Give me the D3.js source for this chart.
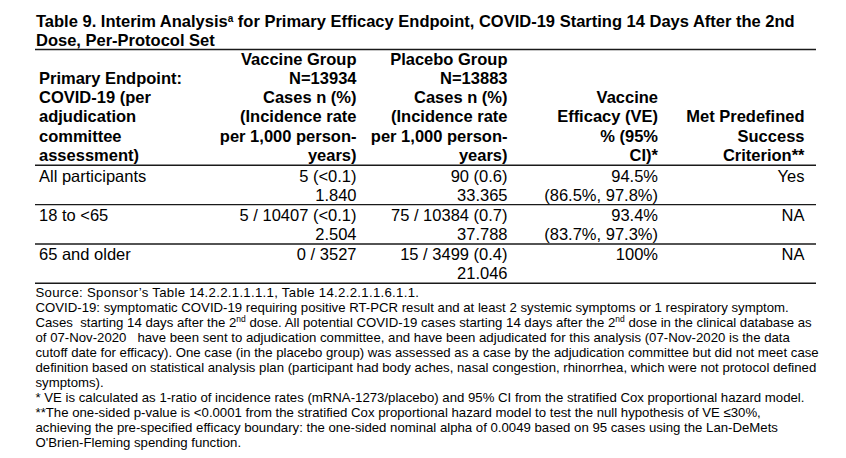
<!DOCTYPE html>
<html>
<head>
<meta charset="utf-8">
<script src="https://cdn.jsdelivr.net/npm/d3@7"></script>
<style>
  html, body { margin: 0; padding: 0; background: #fff; }
  svg { display: block; }
  text { font-family: "Liberation Sans", Arial, Helvetica, sans-serif; fill: #000; }
</style>
</head>
<body>
<svg id="chart" width="846" height="458"></svg>
<script>
// ---------- data ----------
const subgroups = ["All participants", "18 to <65", "65 and older"];
const vaccineCases = ["5 (<0.1)", "5 / 10407 (<0.1)", "0 / 3527"];
const vaccineRate = ["1.840", "2.504", ""];
const placeboCases = ["90 (0.6)", "75 / 10384 (0.7)", "15 / 3499 (0.4)"];
const placeboRate = ["33.365", "37.788", "21.046"];
const vaccineEfficacy = ["94.5%", "93.4%", "100%"];
const efficacyCI = ["(86.5%, 97.8%)", "(83.7%, 97.3%)", ""];
const metCriterion = ["Yes", "NA", "NA"];

const headerEndpoint = ["Primary Endpoint:", "COVID-19 (per", "adjudication", "committee", "assessment)"];
const headerVaccine = ["Vaccine Group", "N=13934", "Cases n (%)", "(Incidence rate", "per 1,000 person-", "years)"];
const headerPlacebo = ["Placebo Group", "N=13883", "Cases n (%)", "(Incidence rate", "per 1,000 person-", "years)"];
const headerVE = ["Vaccine", "Efficacy (VE)", "% (95%", "CI)*"];
const headerMet = ["Met Predefined", "Success", "Criterion**"];

const footnotes = [
  [["Source: Sponsor\u2019s Table 14.2.2.1.1.1.1, Table 14.2.2.1.1.6.1.1."]],
  [["COVID-19: symptomatic COVID-19 requiring positive RT-PCR result and at least 2 systemic symptoms or 1 respiratory symptom."]],
  [["Cases  starting 14 days after the 2"], ["nd", "sup"], [" dose. All potential COVID-19 cases starting 14 days after the 2"], ["nd", "sup"], [" dose in the clinical database as"]],
  [["of 07-Nov-2020   have been sent to adjudication committee, and have been adjudicated for this analysis (07-Nov-2020 is the data"]],
  [["cutoff date for efficacy). One case (in the placebo group) was assessed as a case by the adjudication committee but did not meet case"]],
  [["definition based on statistical analysis plan (participant had body aches, nasal congestion, rhinorrhea, which were not protocol defined"]],
  [["symptoms)."]],
  [["* VE is calculated as 1-ratio of incidence rates (mRNA-1273/placebo) and 95% CI from the stratified Cox proportional hazard model."]],
  [["**The one-sided p-value is <0.0001 from the stratified Cox proportional hazard model to test the null hypothesis of VE \u226430%,"]],
  [["achieving the pre-specified efficacy boundary: the one-sided nominal alpha of 0.0049 based on 95 cases using the Lan-DeMets"]],
  [["O'Brien-Fleming spending function."]]
];

// ---------- layout ----------
const svg = d3.select("#chart");
const left = 35, right = 816;
const bodySize = 16.5, lineH = 19.15;

// title
const title = svg.append("g").attr("font-weight", "bold").attr("font-size", 16.5);
const t1 = title.append("text").attr("x", 36).attr("y", 26.7);
t1.append("tspan").text("Table 9. Interim Analysis");
t1.append("tspan").attr("font-size", 10).attr("dy", -5).text("a");
t1.append("tspan").attr("dy", 5).text(" for Primary Efficacy Endpoint, COVID-19 Starting 14 Days After the 2nd");
title.append("text").attr("x", 36).attr("y", 45.7).text("Dose, Per-Protocol Set");

// columns
const columns = [
  { header: headerEndpoint, l1: subgroups, l2: null, x: 39, anchor: "start" },
  { header: headerVaccine, l1: vaccineCases, l2: vaccineRate, x: 356.5, anchor: "end" },
  { header: headerPlacebo, l1: placeboCases, l2: placeboRate, x: 507.5, anchor: "end" },
  { header: headerVE, l1: vaccineEfficacy, l2: efficacyCI, x: 658, anchor: "end" },
  { header: headerMet, l1: metCriterion, l2: null, x: 804.5, anchor: "end" }
];

const headerTop = 49.5, headerBottom = 165.3;
const headerLast = 160.7; // baseline of last header line
const y = d3.scaleBand().domain(subgroups).range([headerBottom, 283.3]).paddingInner(0).paddingOuter(0);

// rules
const rules = [headerTop, headerBottom].concat(subgroups.map(s => y(s) + y.bandwidth()));
svg.append("g").selectAll("line").data(rules).join("line")
  .attr("x1", left).attr("x2", right)
  .attr("y1", d => d).attr("y2", d => d)
  .attr("stroke", "#1a1a1a").attr("stroke-width", 1.4);

// header text
const hg = svg.append("g").attr("font-weight", "bold").attr("font-size", bodySize);
columns.forEach(col => {
  const n = col.header.length;
  hg.append("g").selectAll("text").data(col.header).join("text")
    .attr("x", col.x)
    .attr("y", (d, i) => headerLast - (n - 1 - i) * lineH)
    .attr("text-anchor", col.anchor)
    .text(d => d);
});

// body text
const bg = svg.append("g").attr("font-size", bodySize);
columns.forEach(col => {
  bg.append("g").selectAll("text").data(subgroups).join("text")
    .attr("x", col.x)
    .attr("y", d => y(d) + 16.3)
    .attr("text-anchor", col.anchor)
    .text((d, i) => col.l1[i]);
  if (col.l2) {
    bg.append("g").selectAll("text").data(subgroups).join("text")
      .attr("x", col.x)
      .attr("y", d => y(d) + 16.3 + lineH)
      .attr("text-anchor", col.anchor)
      .text((d, i) => col.l2[i]);
  }
});

// footnotes
const fg = svg.append("g").attr("font-size", 13.2);
footnotes.forEach((parts, i) => {
  const t = fg.append("text").attr("x", 35.5).attr("y", 296.8 + i * 15.05).attr("xml:space", "preserve").style("white-space", "pre");
  if (i === 0) t.attr("letter-spacing", 0.3);
  let raised = false;
  parts.forEach(p => {
    const ts = t.append("tspan").text(p[0]);
    if (p[1] === "sup") {
      ts.attr("font-size", 8.5).attr("dy", -5);
      raised = true;
    } else if (raised) {
      ts.attr("dy", 5);
      raised = false;
    }
  });
});
</script>
</body>
</html>
